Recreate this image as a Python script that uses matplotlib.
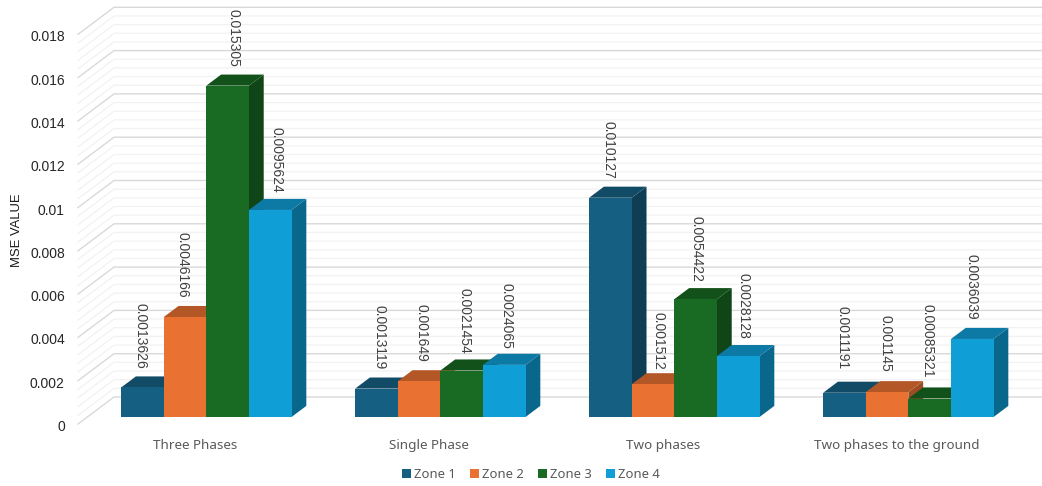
import matplotlib
matplotlib.use('Agg')
import numpy as np
import matplotlib.pyplot as plt
from matplotlib.patches import Polygon, Patch
from matplotlib.transforms import ScaledTranslation

categories = ['Three Phases', 'Single Phase', 'Two phases', 'Two phases to the ground']
zones = ['Zone 1', 'Zone 2', 'Zone 3', 'Zone 4']
zone1 = [0.0013626, 0.0013119, 0.010127, 0.0011191]
zone2 = [0.0046166, 0.001649, 0.001512, 0.001145]
zone3 = [0.015305, 0.0021454, 0.0054422, 0.00085321]
zone4 = [0.0095624, 0.0024065, 0.0028128, 0.0036039]
series = [zone1, zone2, zone3, zone4]
y_ticks = [0, 0.002, 0.004, 0.006, 0.008, 0.01, 0.012, 0.014, 0.016, 0.018]
y_tick_labels = ['0', '0.002', '0.004', '0.006', '0.008', '0.01', '0.012', '0.014', '0.016', '0.018']

# front, top and side shades of each zone
front_cols = ['#156082', '#E97132', '#196B24', '#0F9ED5']
top_cols = ['#124B66', '#B45726', '#13511B', '#0C7AA5']
side_cols = ['#0E3D54', '#9E4C21', '#104518', '#0A678C']

W, H = 1042, 486
left, right, base, top = 78, 1014, 424, 34.3

fig = plt.figure(figsize=(W / 100, H / 100), dpi=100)
ax = fig.add_axes([left / W, 1 - base / H, (right - left) / W, (base - top) / H])
ax.set_xlim(-0.5, 3.5)
ax.set_ylim(0, 0.018)
ax.patch.set_visible(False)
for s in ax.spines.values():
    s.set_visible(False)

# pixels to axis units, for the oblique depth direction
px_x = 4 / (right - left)
px_y = 0.018 / (base - top)
wall_dx, wall_dy = 36 * px_x, 27 * px_y


def depth(x, v, t):
    return x + t * wall_dx, v + t * wall_dy


# walls: major and minor gridlines, drawn at the back and down the left side
for v in np.arange(0, 0.0181, 0.0004):
    major = abs(v / 0.002 - round(v / 0.002)) < 1e-6
    col = '#D9D9D9' if major else '#F2F2F2'
    lw = 1.0 if major else 0.9
    bx, by = depth(-0.5, v, 1)
    ax.plot([-0.5, bx, 3.7], [v, by, by], color=col, lw=lw, zorder=2 if major else 1, clip_on=False)

# bars sit between these two depths on the floor
t0, t1 = 0.26, 0.67
bar_w = 42.6 * px_x
shift = 2 * px_x

# per-label nudges in pixels, (right, up)
label_nudge = {
    (0, 1): (-1, 0), (0, 2): (8, 0), (0, 3): (8, -2),
    (1, 0): (5, 0), (1, 1): (4, 0), (1, 2): (5, -2), (1, 3): (4, -3),
    (2, 1): (7, -5), (2, 2): (3, -2), (2, 3): (7, -2),
    (3, 0): (0, 5), (3, 1): (0, 1), (3, 2): (0, 2), (3, 3): (1, 0),
}

for i in range(len(categories)):
    for j in range(4):
        val = series[j][i]
        x0 = i + shift + (j - 2) * bar_w
        x1 = x0 + bar_w
        fx0, fy0 = depth(x0, 0, t0)
        fx1, _ = depth(x1, 0, t0)
        fy1 = fy0 + val
        bx0, by0 = depth(x0, 0, t1)
        bx1, _ = depth(x1, 0, t1)
        by1 = by0 + val
        z = 5 + i * 10 + j
        ax.add_patch(Polygon([(fx1, fy0), (bx1, by0), (bx1, by1), (fx1, fy1)], fc=side_cols[j], ec='none', zorder=z, clip_on=False))
        ax.add_patch(Polygon([(fx0, fy1), (fx1, fy1), (bx1, by1), (bx0, by1)], fc=top_cols[j], ec='none', zorder=z, clip_on=False))
        ax.add_patch(Polygon([(fx0, fy0), (fx1, fy0), (fx1, fy1), (fx0, fy1)], fc=front_cols[j], ec='none', zorder=z, clip_on=False))
        nx, ny = label_nudge.get((i, j), (0, 0))
        ax.text((fx0 + fx1) / 2 + (nx - 2) * px_x, by1 + (8 + ny) * px_y, str(val), rotation=270, ha='center', va='bottom',
                fontsize=10, family='Liberation Sans', color='#404040', zorder=100, clip_on=False)

ax.set_yticks(y_ticks)
ax.set_yticklabels(y_tick_labels, fontsize=10, family='Liberation Sans', color='#262626')
ax.set_xticks(range(len(categories)))
ax.set_xticklabels(categories, fontsize=9.7, family='Noto Sans', color='#595959')
ax.tick_params(axis='y', length=0, pad=9.5)
ax.tick_params(axis='x', length=0, pad=11)

# value labels sit a little lower than the tick position
down = ScaledTranslation(0, -1.5 / 100, fig.dpi_scale_trans)
for lab in ax.get_yticklabels():
    lab.set_transform(lab.get_transform() + down)

fig.text(17 / W, 1 - 230 / H, 'MSE VALUE', rotation=90, ha='center', va='center', fontsize=9.4, family='Liberation Sans', color='#1a1a1a')

handles = [Patch(fc=c, ec='none') for c in front_cols]
fig.legend(handles, zones, ncol=4, loc='center', bbox_to_anchor=(531 / W, 1 - 474.5 / H), frameon=False,
           handlelength=0.7, handleheight=0.65, handletextpad=0.25, columnspacing=1.05, borderpad=0,
           prop={'family': 'Noto Sans', 'size': 9.4}, labelcolor='#595959')

fig.savefig('out.png', dpi=100)
